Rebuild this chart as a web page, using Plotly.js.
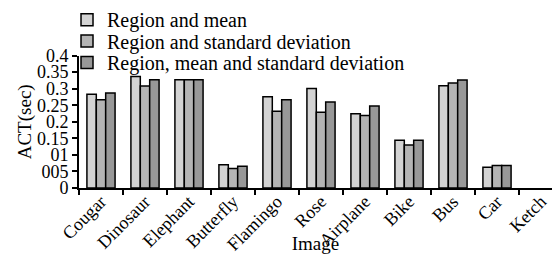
<!DOCTYPE html>
<html>
<head>
<meta charset="utf-8">
<script src="https://cdn.plot.ly/plotly-3.0.1.min.js"></script>
<style>html,body{margin:0;padding:0;background:#fff;}#chart{width:552px;height:254px;}</style>
</head>
<body>
<div id="chart"></div>
<script>
const categories = ["Cougar","Dinosaur","Elephant","Butterfly","Flamingo","Rose","Airplane","Bike","Bus","Car","Ketch"];
const seriesNames = ["Region and mean","Region and standard deviation","Region, mean and standard deviation"];
const regionMean = [0.283,0.337,0.327,0.070,0.276,0.301,0.224,0.144,0.309,0.063,null];
const regionStd = [0.267,0.308,0.327,0.059,0.232,0.229,0.219,0.130,0.317,0.068,null];
const regionMeanStd = [0.287,0.327,0.327,0.066,0.267,0.260,0.248,0.144,0.326,0.068,null];
const yTickVals = [0,0.05,0.1,0.15,0.2,0.25,0.3,0.35,0.4];
const yTickText = ["0","005","01","0.15","0.2","0.25","0.3","0.35","0.4"];
const colors = ["#d3d3d3","#b4b4b4","#989898"];

function f(s){ return {family:"Liberation Serif", size:s, color:"#000000"}; }
const values = [regionMean, regionStd, regionMeanStd];
const legendIds = ["legend","legend2","legend3"];
const legendY = [0.920, 0.803, 0.686];
const traces = values.map((v,i)=>({
  type:"bar", x:categories, y:v, name:seriesNames[i], legend:legendIds[i],
  marker:{color:colors[i], line:{color:"#000", width:1.5}}
}));
const layout = {
  width:552, height:254,
  margin:{l:0, r:0, t:0, b:66},
  paper_bgcolor:"#fff", plot_bgcolor:"#fff",
  font:f(19),
  barmode:"group", bargap:0.36, bargroupgap:0,
  showlegend:true,
  xaxis:{
    domain:[0.1431, 1],
    type:"category", range:[-0.5,10.25], tickson:"boundaries", ticks:"outside", ticklen:5, tickwidth:2, tickcolor:"#000",
    showline:true, linecolor:"#000", linewidth:2, showgrid:false, tickangle:-45, tickfont:f(18), ticklabelstandoff:-6,
    title:{text:"Image", font:f(19), standoff:0}, automargin:false
  },
  yaxis:{
    domain:[0, 0.7234],
    range:[0,0.4], tickvals:yTickVals, ticktext:yTickText, ticks:"outside", ticklen:5, tickwidth:2, tickcolor:"#000",
    showline:true, linecolor:"#000", linewidth:2, showgrid:false, zeroline:false, tickfont:f(18),
    title:{text:"ACT(sec)", font:f(19), standoff:0}, automargin:false
  }
};
legendIds.forEach((id,i)=>{
  layout[id] = {x:0.1214, y:legendY[i], xanchor:"left", yanchor:"middle",
    font:f(20), bgcolor:"rgba(0,0,0,0)", itemwidth:30};
});
Plotly.newPlot("chart", traces, layout, {displayModeBar:false, staticPlot:true});
</script>
</body>
</html>
